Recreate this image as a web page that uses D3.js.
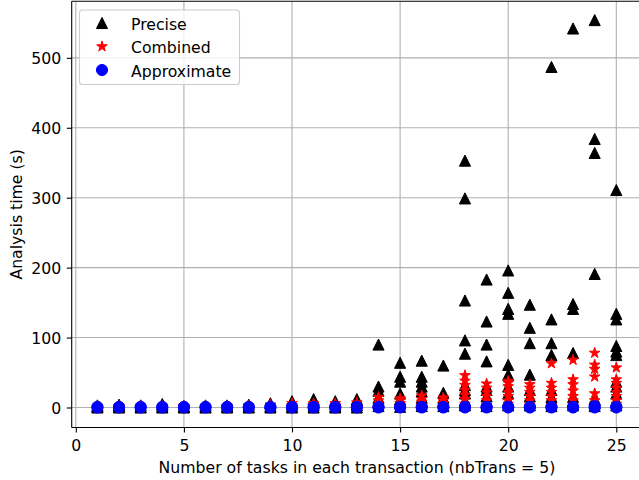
<!DOCTYPE html>
<html>
<head>
<meta charset="utf-8">
<script src="https://cdn.jsdelivr.net/npm/d3@7"></script>
<style>
  html, body { margin: 0; padding: 0; background: #fff; }
  svg { display: block; font-family: "DejaVu Sans", sans-serif; }
</style>
</head>
<body>
<svg id="chart" width="639" height="480"></svg>
<script>
// ---- Data ----
const seriesNames = ["Precise", "Combined", "Approximate"];
const xTicks = [0, 5, 10, 15, 20, 25];
const yTicks = [0, 100, 200, 300, 400, 500];
const xLabel = "Number of tasks in each transaction (nbTrans = 5)";
const yLabel = "Analysis time (s)";

// Each entry: [nbTasks, values...]
const precise = [
  [1, 0, 1, 2, 3], [2, 0, 1, 3, 4], [3, 0, 1, 3], [4, 0, 1, 3, 5],
  [5, 0, 1, 2], [6, 0, 1, 3], [7, 0, 1, 3], [8, 0, 1, 4],
  [9, 0, 2, 6], [10, 0, 2, 5, 9], [11, 0, 3, 7, 12], [12, 0, 2, 5, 9],
  [13, 0, 3, 8, 12],
  [14, 2, 8, 14, 24, 30, 90],
  [15, 1, 6, 12, 20, 37, 44, 64],
  [16, 2, 8, 14, 23, 30, 37, 44, 67],
  [17, 2, 8, 14, 21, 60],
  [18, 3, 10, 20, 25, 32, 77, 96, 153, 299, 353],
  [19, 2, 8, 16, 25, 30, 66, 90, 123, 183],
  [20, 3, 10, 20, 30, 47, 61, 134, 141, 164, 196],
  [21, 3, 8, 16, 25, 47, 92, 114, 147],
  [22, 2, 8, 15, 25, 75, 92, 126, 487],
  [23, 3, 8, 15, 78, 141, 148, 542],
  [24, 2, 6, 12, 191, 364, 384, 554],
  [25, 3, 10, 20, 30, 37, 75, 80, 88, 126, 134, 311]
];
const combined = [
  [1, 0, 1, 2], [2, 0, 1, 2], [3, 0, 1, 2], [4, 0, 1, 2],
  [5, 0, 1, 2], [6, 0, 1, 2], [7, 0, 1, 2], [8, 0, 1, 3],
  [9, 0, 2, 4], [10, 0, 3, 6], [11, 0, 3, 6], [12, 0, 3, 6],
  [13, 0, 3, 7],
  [14, 2, 6, 10, 15],
  [15, 2, 6, 10, 13],
  [16, 3, 8, 12, 17],
  [17, 2, 6, 10, 14],
  [18, 5, 12, 18, 25, 32, 38, 46],
  [19, 4, 10, 16, 22, 28, 34],
  [20, 5, 10, 16, 22, 30, 35, 38],
  [21, 4, 10, 16, 22, 28, 33],
  [22, 3, 10, 16, 22, 28, 35, 63],
  [23, 4, 10, 16, 24, 33, 40, 68],
  [24, 5, 10, 20, 44, 55, 61, 78],
  [25, 5, 10, 16, 22, 28, 35, 40, 57]
];
const approximate = [
  [1, 0, 1], [2, 0, 1], [3, 0, 1], [4, 0, 1], [5, 0, 1],
  [6, 0, 1], [7, 0, 1], [8, 0, 1], [9, 0, 1], [10, 0, 1],
  [11, 0, 1], [12, 0, 1], [13, 0, 1], [14, 0, 1], [15, 0, 1],
  [16, 0, 1], [17, 0, 1], [18, 0, 1], [19, 0, 1], [20, 0, 1],
  [21, 0, 1], [22, 0, 1], [23, 0, 1], [24, 0, 2], [25, 0, 1]
];
const colors = ["#000000", "#ff0000", "#0000ff"];

// ---- Layout ----
const FS = "15.7px";
const svg = d3.select("#chart");
const mLeft = 71.7, mTop = 1.2, mBottom = 427.5;
const x = d3.scaleLinear().domain([-0.19, 26.2]).range([mLeft, mLeft + (26.2 + 0.19) * 21.62]);
const y = d3.scaleLinear().domain([-28.6, 581]).range([mBottom, mTop]);
const mRight = x(26.2);

// Grid
const grid = svg.append("g");
xTicks.forEach(t => grid.append("line")
  .attr("x1", x(t)).attr("x2", x(t)).attr("y1", mTop).attr("y2", mBottom)
  .attr("stroke", "#b0b0b0").attr("stroke-width", 1.1));
yTicks.forEach(t => grid.append("line")
  .attr("x1", mLeft).attr("x2", mRight).attr("y1", y(t)).attr("y2", y(t))
  .attr("stroke", "#b0b0b0").attr("stroke-width", 1.1));

// Marker shapes (matplotlib markersize 8 -> r = 5.56 px)
const R = 5.56;
function trianglePath(r) { return `M0,${-r}L${r},${r}L${-r},${r}Z`; }
function starPath(r) {
  const inner = r * 0.381966; const pts = [];
  for (let i = 0; i < 10; i++) {
    const a = Math.PI / 2 + i * Math.PI / 5;
    const rr = i % 2 === 0 ? r : inner;
    pts.push([rr * Math.cos(a), -rr * Math.sin(a)]);
  }
  return "M" + pts.map(p => p[0].toFixed(2) + "," + p[1].toFixed(2)).join("L") + "Z";
}
function circlePath(r) { return `M${r},0A${r},${r} 0 1,1 ${-r},0A${r},${r} 0 1,1 ${r},0Z`; }
const shapes = [trianglePath(R), starPath(R), circlePath(R)];

function flatten(arr) {
  const out = [];
  arr.forEach(row => row.slice(1).forEach(v => out.push({ n: row[0], v })));
  return out;
}
const allSeries = [precise, combined, approximate];
const plot = svg.append("g");
allSeries.forEach((s, i) => {
  plot.append("g").selectAll("path").data(flatten(s)).enter().append("path")
    .attr("d", shapes[i])
    .attr("transform", d => `translate(${x(d.n)},${y(d.v)})`)
    .attr("fill", colors[i]).attr("stroke", colors[i]).attr("stroke-width", 1);
});

// Spines
svg.append("line").attr("x1", mLeft).attr("x2", mLeft).attr("y1", mTop).attr("y2", mBottom)
  .attr("stroke", "#000").attr("stroke-width", 1.1);
svg.append("line").attr("x1", mLeft).attr("x2", mRight).attr("y1", mBottom).attr("y2", mBottom)
  .attr("stroke", "#000").attr("stroke-width", 1.1);
svg.append("line").attr("x1", mLeft).attr("x2", mRight).attr("y1", mTop).attr("y2", mTop)
  .attr("stroke", "#000").attr("stroke-width", 1.1);

// Axes using d3 axis generators
const xAxis = d3.axisBottom(x).tickValues(xTicks).tickSize(4.9).tickPadding(4.9).tickFormat(d3.format("d"));
const gx = svg.append("g").attr("transform", `translate(0,${mBottom})`).call(xAxis);
gx.select(".domain").remove();
gx.selectAll("line").attr("stroke", "#000").attr("stroke-width", 1.1);
gx.selectAll("text").attr("font-size", FS).attr("font-family", "DejaVu Sans").attr("fill", "#000")
  .attr("dy", null).attr("y", 23.8);

const yAxis = d3.axisLeft(y).tickValues(yTicks).tickSize(4.9).tickPadding(5.5).tickFormat(d3.format("d"));
const gy = svg.append("g").attr("transform", `translate(${mLeft},0)`).call(yAxis);
gy.select(".domain").remove();
gy.selectAll("line").attr("stroke", "#000").attr("stroke-width", 1.1);
gy.selectAll("text").attr("font-size", FS).attr("font-family", "DejaVu Sans").attr("fill", "#000")
  .attr("dy", "0.36em");

// Axis labels
svg.append("text").attr("x", (mLeft + mRight) / 2).attr("y", 473)
  .attr("text-anchor", "middle").attr("font-size", FS).text(xLabel);
svg.append("text").attr("transform", `translate(21.5,${(mTop + mBottom) / 2}) rotate(-90)`)
  .attr("text-anchor", "middle").attr("font-size", FS).text(yLabel);

// Legend
const lg = svg.append("g");
lg.append("rect").attr("x", 79.5).attr("y", 10).attr("width", 160).attr("height", 74.5)
  .attr("rx", 3).attr("fill", "#fff").attr("fill-opacity", 0.8)
  .attr("stroke", "#cccccc").attr("stroke-width", 1.1);
seriesNames.forEach((name, i) => {
  const cy = 23 + i * 23.5;
  lg.append("path").attr("d", shapes[i]).attr("transform", `translate(102,${cy})`)
    .attr("fill", colors[i]).attr("stroke", colors[i]).attr("stroke-width", 1);
  lg.append("text").attr("x", 131).attr("y", cy + 6.5).attr("font-size", FS).text(name);
});
</script>
</body>
</html>
